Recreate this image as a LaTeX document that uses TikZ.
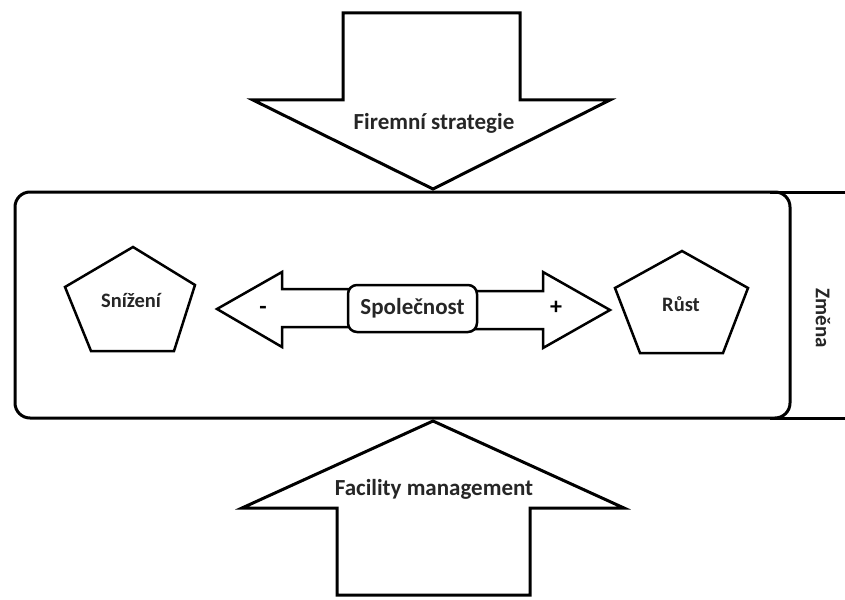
\documentclass[tikz,border=0pt]{standalone}
\usepackage{fontspec}
\setmainfont{Carlito}
\begin{document}
\begin{tikzpicture}[x=1pt,y=-1pt,
  outline/.style={draw=black,line width=3pt,line join=miter,fill=white},
  label/.style={font=\bfseries\fontsize{23}{26}\selectfont,text=black!85,inner sep=0pt},
  small/.style={label,font=\bfseries\fontsize{20.5}{23}\selectfont},
  sign/.style={font=\bfseries\fontsize{24}{26}\selectfont,inner sep=0pt}]
\useasboundingbox[fill=white] (0,0) rectangle (845,599);

% main frame and the open band on its right
\draw[draw=black,line width=3pt,rounded corners=15pt] (15,192) rectangle (790,418);
\draw[line width=3pt] (770,192) -- (845,192);
\draw[line width=3pt] (770,418) -- (845,418);
\node[label,font=\bfseries\fontsize{21}{24}\selectfont,rotate=-90] (zmena) at (823,318) {Změna};

% strategy arrow pointing down onto the frame
\draw[outline] (343,13) -- (520,13) -- (520,100) -- (610,100) -- (433,189)
  -- (253,100) -- (343,100) -- cycle;
\node[label] (strategie) at (434,123) {Firemní strategie};

% facility management arrow pointing up onto the frame
\draw[outline] (433,421) -- (624,508) -- (530,508) -- (530,595) -- (337,595)
  -- (337,508) -- (242,508) -- cycle;
\node[label] (fm) at (434,489) {Facility management};

% pentagons
\draw[outline,line width=2.5pt] (133,247) -- (195,285) -- (174,351) -- (91,351) -- (65,287) -- cycle;
\node[small] (snizeni) at (131,300) {Snížení};
\draw[outline,line width=2.5pt] (682,251) -- (748,288) -- (723,353) -- (640,353) -- (615,288) -- cycle;
\node[small] (rust) at (681,304) {Růst};

% double arrow around the company
\draw[outline,line width=2.5pt] (350,289) -- (282,289) -- (282,272) -- (217,309)
  -- (282,347) -- (282,327) -- (350,327) -- cycle;
\draw[outline,line width=2.5pt] (475,291) -- (543,291) -- (543,272) -- (610,310)
  -- (543,348) -- (543,329) -- (475,329) -- cycle;
\node[draw=black,line width=2.5pt,fill=white,rounded corners=9pt,
      minimum width=129pt,minimum height=47pt,label,inner sep=0pt] (spol) at (412.5,308.5) {Společnost};
\node[sign] (minus) at (263,310) {-};
\node[sign] (plus) at (556,308) {+};
\end{tikzpicture}
\end{document}
